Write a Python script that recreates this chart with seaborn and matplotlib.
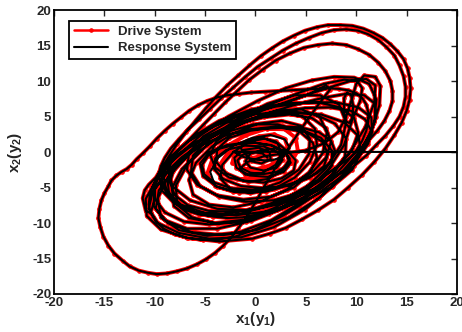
import numpy as np
import pandas as pd
import matplotlib
matplotlib.use("Agg")
import matplotlib.pyplot as plt
import seaborn as sns

# trajectory read off the phase portrait (x1, x2), in drawing order
# first small loops of the drive, before the response has caught up (red only)
unsynced_spiral = [(-0.6, 0.4), (-1.4, -0.6), (-0.2, -0.8), (1.0, -0.4), (1.9, 0.4), (2.0, 1.2), (1.2, 1.6),
                   (0.0, 1.3), (-1.2, 0.6), (-2.1, -0.4), (-2.3, -1.5), (-1.5, -2.3), (-0.1, -2.5),
                   (1.4, -1.9), (2.6, -0.8), (3.2, 0.6), (2.9, 1.9), (1.8, 2.5), (0.3, 2.2), (-1.3, 1.3),
                   (-2.7, 0.0), (-3.4, -1.5), (-3.1, -3.0), (-1.8, -3.8), (0.1, -3.8), (2.0, -3.0),
                   (3.5, -1.6), (4.2, 0.2), (4.0, 2.0), (2.9, 3.2), (1.1, 3.3), (-0.9, 2.4), (-2.9, 0.8),
                   (-4.3, -1.1), (-4.8, -3.1)]

inner_spiral = [(-4.0, -4.8), (-2.2, -5.6), (0.1, -5.4), (2.4, -4.3), (4.3, -2.5), (5.3, -0.3), (5.4, 1.9),
                (4.5, 3.7), (2.6, 4.4), (0.3, 4.0), (-2.1, 2.7), (-4.3, 0.8), (-5.9, -1.5), (-6.6, -3.9),
                (-6.2, -6.0), (-4.6, -7.4), (-2.2, -7.8), (0.5, -7.0), (3.1, -5.3), (5.3, -2.9), (6.7, -0.1),
                (7.1, 2.7), (6.4, 4.9), (4.6, 6.0), (2.2, 5.9), (-0.4, 4.7), (-3.0, 2.8), (-5.4, 0.3),
                (-7.3, -2.4), (-8.3, -5.1), (-8.1, -7.6), (-6.6, -9.3), (-4.0, -10.0), (-1.0, -9.5),
                (2.0, -7.8), (4.8, -5.3), (7.0, -2.3), (8.5, 1.0), (9.0, 4.2), (8.3, 6.7), (6.4, 8.0),
                (3.9, 8.0), (1.2, 6.8), (-1.6, 4.8), (-4.3, 2.3), (-6.8, -0.6), (-8.7, -3.6), (-9.7, -6.5)]

growth_loops = [(-9.4, -9.2), (-7.6, -11.0), (-4.8, -11.8), (-1.6, -11.3), (1.6, -9.6), (4.6, -7.0),
                (7.2, -3.8), (9.3, -0.2), (10.9, 3.5), (11.8, 7.0), (11.9, 9.4), (11.0, 10.3), (9.6, 10.1),
                (8.0, 9.4), (5.8, 8.4), (3.3, 7.2), (0.8, 5.9), (-1.8, 4.3), (-4.4, 2.2), (-6.8, -0.3),
                (-8.8, -3.0), (-10.2, -5.6), (-10.6, -8.0), (-9.7, -10.0), (-7.6, -11.4), (-4.6, -12.2),
                (-1.4, -12.0), (1.8, -10.6), (4.9, -8.1), (7.7, -4.8), (9.9, -1.0), (11.5, 2.9),
                (12.3, 6.6), (12.4, 9.3), (11.9, 10.6), (10.8, 10.8), (10.0, 9.6), (9.6, 7.6), (9.0, 5.0),
                (8.2, 2.8)]

reinjection = [(6.8, 1.2), (4.9, 0.2), (2.8, -0.2), (0.8, -0.6), (-0.8, -1.4), (-1.6, -2.4), (-1.0, -3.2),
               (0.6, -3.0), (2.0, -1.8), (2.6, -0.2), (2.2, 1.2), (0.9, 1.9), (-0.7, 1.4), (-2.2, 0.0),
               (-3.3, -1.8), (-3.5, -3.7), (-2.5, -5.2), (-0.5, -5.8), (1.8, -5.2), (3.9, -3.6), (5.4, -1.4),
               (6.1, 1.0), (5.9, 3.3), (4.7, 5.0), (2.7, 5.6), (0.3, 5.0), (-2.3, 3.4), (-4.8, 1.0),
               (-6.8, -1.8), (-7.9, -4.7), (-7.8, -7.4), (-6.3, -9.2), (-3.8, -10.1), (-0.9, -9.8),
               (2.1, -8.2), (4.9, -5.7), (7.2, -2.5), (8.8, 1.0), (9.6, 4.5), (9.7, 6.5), (9.5, 8.0),
               (9.1, 8.4), (8.8, 7.6), (8.8, 5.6), (9.0, 4.3), (9.3, 4.1), (9.8, 5.2), (10.4, 7.2),
               (10.6, 9.0), (10.1, 10.0), (8.8, 10.2), (6.8, 9.6), (4.4, 8.4), (1.8, 6.9), (-0.9, 5.1),
               (-3.6, 2.9), (-6.1, 0.3), (-8.2, -2.6), (-9.6, -5.4), (-9.9, -8.0), (-8.7, -10.0),
               (-6.3, -11.3), (-3.2, -11.7), (0.1, -11.0), (3.3, -9.2), (6.3, -6.5), (8.8, -3.2),
               (10.7, 0.5), (11.8, 4.2), (12.0, 7.4), (11.3, 9.6), (9.8, 10.5), (7.8, 10.6), (5.6, 10.1),
               (3.0, 9.0), (0.2, 7.2), (-2.7, 5.0), (-5.4, 2.4), (-7.8, -0.6), (-9.8, -3.8), (-10.9, -6.6),
               (-10.8, -9.0), (-9.4, -10.9), (-6.8, -12.1), (-3.6, -12.6), (-0.3, -12.2), (1.4, -11.5)]

outer_loop_top = [(3.0, -10.7), (4.6, -9.5), (6.2, -8.2), (7.8, -6.7), (9.2, -5.0), (10.6, -3.2),
                  (11.8, -1.4), (12.9, 0.5), (13.8, 2.4), (14.5, 4.1), (15.0, 5.8), (15.3, 7.4), (15.4, 9.0),
                  (15.3, 10.5), (15.1, 11.8), (14.7, 13.1), (14.1, 14.2), (13.4, 15.2), (12.6, 16.1),
                  (11.7, 16.8), (10.7, 17.4), (9.6, 17.8), (8.4, 17.9), (7.2, 17.9), (6.1, 17.6), (4.9, 17.1),
                  (3.8, 16.4), (2.7, 15.6), (1.6, 14.6), (0.5, 13.5), (-0.6, 12.2), (-1.7, 10.8), (-2.8, 9.4),
                  (-3.9, 7.8), (-4.9, 6.2), (-5.9, 4.5), (-6.9, 2.8), (-7.8, 1.1), (-8.6, -0.6), (-9.3, -2.2),
                  (-9.9, -3.6), (-10.6, -4.6), (-11.0, -5.4)]

left_hook = [(-11.2, -6.5), (-10.9, -8.3), (-10.4, -8.6), (-10.1, -7.0), (-10.0, -5.0), (-9.6, -3.4),
             (-8.4, -1.4), (-6.6, 0.6), (-4.4, 2.4), (-1.9, 3.9), (0.8, 4.9), (3.4, 5.3), (5.6, 4.8),
             (7.0, 3.4), (7.5, 1.4), (7.0, -0.8), (5.6, -2.9), (3.5, -4.6), (1.0, -5.6), (-1.6, -5.7),
             (-3.8, -4.9), (-5.2, -3.4), (-5.5, -1.6), (-4.6, 0.0), (-2.8, 1.0), (-0.6, 1.4), (1.5, 1.0),
             (3.0, -0.1), (3.5, -1.5), (2.8, -2.8), (1.2, -3.5), (-0.6, -3.3), (-1.9, -2.2), (-2.1, -0.8),
             (-1.2, 0.3), (0.3, 0.6), (1.4, 0.0), (1.5, -1.0), (0.6, -1.6), (-0.4, -1.3)]

mid_spiral = [(-1.5, 0.6), (-0.8, 1.6), (0.6, 2.0), (2.0, 1.5), (3.0, 0.3), (3.3, -1.2), (2.6, -2.7),
              (1.2, -3.8), (-0.7, -4.2), (-2.6, -3.6), (-4.0, -2.2), (-4.5, -0.4), (-3.9, 1.5),
              (-2.4, 3.0), (-0.2, 3.9), (2.2, 3.9), (4.3, 3.0), (5.7, 1.3), (6.1, -0.8), (5.4, -3.0),
              (3.8, -5.0), (1.5, -6.3), (-1.2, -6.7), (-3.8, -6.1), (-5.8, -4.6), (-6.8, -2.5),
              (-6.6, -0.1), (-5.2, 2.2), (-2.9, 4.1), (-0.1, 5.3), (3.0, 5.8), (5.8, 5.4), (7.9, 4.0),
              (9.0, 1.9), (8.9, -0.6), (7.7, -3.1), (5.5, -5.5), (2.6, -7.3), (-0.6, -8.2), (-3.8, -8.0),
              (-6.5, -6.8), (-8.2, -4.9), (-8.7, -2.6), (-8.0, -0.2), (-6.2, 2.2), (-3.6, 4.4),
              (-0.4, 6.0), (3.0, 6.9), (5.5, 8.3), (7.0, 9.4), (7.4, 8.8)]

big_left_loop = [(6.2, 6.6), (5.4, 5.0), (4.6, 3.4), (3.8, 1.7), (3.0, 0.0), (2.2, -1.7), (1.5, -3.4),
                 (0.8, -5.0), (0.2, -6.6), (-0.4, -8.0), (-1.0, -9.4), (-1.7, -10.7), (-2.4, -12.0),
                 (-3.2, -13.2), (-4.0, -14.2), (-4.9, -15.1), (-5.8, -15.8), (-6.8, -16.4), (-7.8, -16.8),
                 (-8.8, -17.1), (-9.8, -17.2), (-10.7, -17.0), (-11.6, -16.7), (-12.5, -16.1), (-13.2, -15.3),
                 (-14.0, -14.3), (-14.6, -13.2), (-15.1, -11.9), (-15.4, -10.6), (-15.6, -9.3), (-15.5, -8.0),
                 (-15.3, -6.8), (-15.0, -5.8), (-14.6, -4.8), (-14.3, -4.0), (-13.8, -3.3), (-13.3, -2.8),
                 (-12.8, -2.4), (-12.3, -1.8), (-11.8, -1.0), (-11.2, -0.2), (-10.5, 0.8), (-9.8, 1.9),
                 (-9.0, 3.0), (-8.2, 4.0), (-7.4, 4.9), (-6.6, 5.8), (-5.7, 6.6), (-4.8, 7.2), (-3.8, 7.7),
                 (-2.8, 8.0), (-1.6, 8.2), (-0.4, 8.4), (0.9, 8.5), (2.2, 8.6), (3.5, 8.7), (4.8, 8.8),
                 (6.0, 8.9), (7.2, 9.0), (8.3, 8.9), (9.2, 8.7), (10.0, 8.3), (10.6, 7.6), (11.0, 6.7),
                 (11.2, 5.6), (11.2, 4.3), (11.0, 3.0), (10.6, 1.6), (10.0, 0.2), (9.2, -1.2), (8.3, -2.6),
                 (7.2, -3.9), (6.0, -5.2), (4.7, -6.4), (3.2, -7.4), (1.7, -8.2), (0.2, -8.8), (-1.3, -9.2),
                 (-2.8, -9.3), (-4.2, -9.1), (-5.6, -8.7), (-6.8, -8.0), (-7.8, -7.2), (-8.6, -6.2),
                 (-9.1, -5.1), (-9.3, -4.0), (-9.3, -2.8), (-9.0, -1.7), (-8.4, -0.6)]

upper_loops = [(-6.8, 1.4), (-4.6, 3.3), (-2.0, 5.0), (0.8, 6.2), (3.6, 6.9), (6.2, 7.0), (8.4, 6.3),
               (9.8, 4.8), (10.2, 2.7), (9.6, 0.3), (8.0, -2.2), (5.7, -4.6), (2.9, -6.6), (-0.2, -8.0),
               (-3.2, -8.7), (-5.9, -8.5), (-8.0, -7.3), (-9.3, -5.4), (-9.6, -3.1), (-9.4, -2.0),
               (-9.0, -0.8), (-8.4, 0.5), (-7.6, 1.8), (-6.7, 3.2), (-5.6, 4.6), (-4.5, 6.1), (-3.4, 7.6),
               (-2.2, 9.1), (-1.0, 10.6), (0.2, 12.0), (1.5, 13.2), (2.7, 14.3), (4.0, 15.3), (5.3, 16.1),
               (6.6, 16.8), (7.8, 17.2), (9.0, 17.3), (10.2, 17.1), (11.2, 16.6), (12.2, 15.8), (13.0, 14.8),
               (13.8, 13.6), (14.3, 12.2), (14.7, 10.7), (14.9, 9.2), (14.9, 7.8), (14.7, 6.4), (14.3, 5.0),
               (13.7, 3.7), (12.9, 2.3), (12.0, 1.0), (11.0, -0.5), (9.8, -1.9), (8.6, -3.4), (7.2, -4.8),
               (5.8, -6.2), (4.3, -7.6), (2.8, -8.9), (1.2, -10.1), (-0.4, -11.1), (-2.0, -11.9),
               (-3.6, -12.3), (-5.2, -12.4), (-6.7, -12.1), (-8.0, -11.6), (-9.1, -10.8), (-9.9, -9.8),
               (-10.4, -8.6), (-10.6, -7.4), (-10.5, -6.1), (-10.2, -4.8), (-9.7, -3.4), (-9.0, -2.0),
               (-8.2, -0.6), (-7.2, 0.8), (-6.2, 2.3), (-5.2, 3.8), (-4.1, 5.4), (-3.0, 7.0), (-1.8, 8.6),
               (-0.6, 10.2), (0.7, 11.6), (2.0, 12.9), (3.4, 13.9), (4.8, 14.7), (6.2, 15.1), (7.6, 15.3),
               (9.0, 15.1), (10.2, 14.5), (11.3, 13.7), (12.2, 12.6), (12.9, 11.4), (13.4, 10.0),
               (13.6, 8.6), (13.6, 7.2), (13.3, 5.8), (12.8, 4.4), (12.1, 3.0), (11.2, 1.6), (10.2, 0.2),
               (9.0, -1.2), (7.7, -2.5), (6.4, -3.8), (4.9, -5.0), (3.4, -6.2), (1.9, -7.2), (0.3, -8.0),
               (-1.3, -8.6), (-2.8, -8.9), (-4.3, -9.0), (-5.6, -8.8), (-6.7, -8.3), (-7.6, -7.6),
               (-8.2, -6.7), (-8.6, -5.6), (-8.7, -4.4), (-8.6, -3.3), (-7.5, -1.1), (-5.6, 0.9),
               (-3.0, 2.4), (-0.2, 3.2), (2.6, 3.4), (5.0, 2.8), (6.6, 1.5), (7.2, -0.2), (6.8, -2.0),
               (5.4, -3.6), (3.3, -4.7), (0.9, -5.1), (-1.4, -4.8), (-3.2, -3.8), (-4.1, -2.4), (-4.0, -0.9),
               (-2.9, 0.3), (-1.1, 0.9), (0.8, 0.8), (2.2, 0.0), (2.7, -1.1), (2.1, -2.2), (0.8, -2.6),
               (-0.5, -2.2), (-1.0, -1.3)]

late_spiral = [(-0.5, -0.2), (0.7, 0.3), (2.0, 0.5), (3.3, 0.0), (4.0, -1.2), (3.8, -2.6), (2.6, -3.7),
               (0.8, -4.3), (-1.2, -4.0), (-2.9, -3.0), (-3.9, -1.4), (-3.8, 0.4), (-2.6, 2.0), (-0.5, 3.0),
               (2.0, 3.5), (4.5, 3.2), (6.5, 2.0), (7.6, 0.2), (7.6, -1.9), (6.5, -4.0), (4.5, -5.7),
               (1.8, -6.8), (-1.0, -7.0), (-3.6, -6.3), (-5.5, -4.8), (-6.4, -2.8), (-6.2, -0.5),
               (-4.8, 1.7), (-2.5, 3.6), (0.4, 4.9), (3.5, 5.5), (6.5, 5.3), (8.8, 4.2), (10.2, 2.3),
               (10.5, 0.0), (9.6, -2.5), (7.6, -4.9), (4.8, -6.9), (1.5, -8.3), (-1.9, -8.9), (-5.0, -8.6),
               (-7.4, -7.4), (-8.8, -5.5), (-9.2, -3.2), (-8.4, -0.8), (-6.7, 1.5), (-4.2, 3.6),
               (-1.2, 5.3), (2.0, 6.4), (5.2, 7.0), (8.0, 7.0), (10.2, 6.3), (11.5, 4.9), (11.6, 2.8),
               (10.7, 0.2), (8.8, -2.6), (6.2, -5.4), (3.0, -7.8), (-0.4, -9.7), (-3.8, -10.8),
               (-6.8, -10.8), (-9.0, -9.6), (-10.1, -7.6), (-10.0, -5.3), (-9.0, -3.0), (-7.3, -0.7),
               (-5.0, 1.6), (-2.2, 3.6), (0.8, 5.3), (3.8, 6.6), (6.6, 7.6), (9.0, 8.2), (10.8, 8.0),
               (11.8, 6.9), (12.0, 5.0), (11.4, 2.6)]

extra_loops = [(10.3, 0.0), (8.7, -2.6), (6.6, -5.0), (4.1, -7.1), (1.3, -8.7), (-1.7, -9.8), (-4.6, -10.2),
               (-7.1, -9.8), (-9.0, -8.5), (-10.0, -6.6), (-10.1, -4.5), (-9.3, -2.4), (-7.8, -0.4),
               (-5.8, 1.5), (-3.4, 3.2), (-0.7, 4.6), (2.1, 5.6), (4.9, 6.2), (7.4, 6.3), (9.5, 5.8),
               (10.9, 4.6), (11.5, 3.0), (11.2, 1.2), (10.2, -0.8), (8.5, -2.9), (6.2, -4.9), (3.6, -6.6),
               (0.8, -7.8), (-2.0, -8.4), (-4.6, -8.3), (-6.7, -7.5), (-8.0, -6.1), (-8.5, -4.3),
               (-8.1, -2.4), (-7.0, -0.6), (-5.3, 1.0), (-3.1, 2.3), (-0.6, 3.2), (2.0, 3.6), (4.4, 3.5),
               (6.3, 2.8), (7.5, 1.6), (7.9, 0.1), (7.4, -1.5), (6.1, -3.0), (4.2, -4.2), (2.0, -5.0),
               (-0.3, -5.3), (-2.4, -5.1), (-4.1, -4.3), (-5.1, -3.1), (-5.3, -1.8), (-4.7, -0.5),
               (-3.5, 0.5), (-1.8, 1.1), (0.0, 1.3), (1.7, 0.9), (2.9, 0.1), (3.4, -0.9), (3.1, -2.0),
               (2.1, -2.8), (0.8, -3.1), (-0.5, -2.9), (-1.5, -2.2), (-1.8, -1.2), (-1.3, -0.4),
               (-0.3, 0.0), (0.7, -0.2), (1.2, -0.8)]

# response system starts far away, then closes in on the drive trajectory
response_transient = [(20.0, 0.0), (-2.2, 0.05), (-1.2, -0.7), (0.2, -1.1), (1.6, -1.2), (2.8, -0.6),
                      (3.4, 0.6), (2.9, 1.8), (1.5, 2.4), (-0.3, 2.0), (-2.2, 0.9), (-3.7, -0.8),
                      (-4.5, -2.8)]

tick_values = [-20, -15, -10, -5, 0, 5, 10, 15, 20]


def build_frames():
    synced = (inner_spiral + growth_loops + reinjection + outer_loop_top + left_hook
              + mid_spiral + big_left_loop + upper_loops + late_spiral + extra_loops)
    drive_df = pd.DataFrame(unsynced_spiral + synced, columns=["x1", "x2"])
    response_df = pd.DataFrame(response_transient + synced, columns=["x1", "x2"])
    return drive_df, response_df


def plot_sync(drive_df, response_df):
    sns.set_style("white")
    plt.rcParams["font.family"] = ["Liberation Sans", "DejaVu Sans"]
    plt.rcParams["font.weight"] = "bold"
    plt.rcParams["axes.unicode_minus"] = False
    plt.rcParams["mathtext.fontset"] = "custom"
    plt.rcParams["mathtext.rm"] = "Liberation Sans:bold"
    plt.rcParams["mathtext.bf"] = "Liberation Sans:bold"
    plt.rcParams["mathtext.it"] = "Liberation Sans:bold"

    fig = plt.figure(figsize=(4.62, 3.32), dpi=100)
    ax = fig.add_axes([0.117, 0.1145, 0.872, 0.855])

    sns.lineplot(data=drive_df, x="x1", y="x2", sort=False, estimator=None, color="red",
                 linewidth=2.8, marker=".", markersize=5, markeredgecolor="red",
                 label="Drive System", ax=ax)
    sns.lineplot(data=response_df, x="x1", y="x2", sort=False, estimator=None, color="black",
                 linewidth=1.5, label="Response System", ax=ax)

    ax.set_xlim(-20, 20)
    ax.set_ylim(-20, 20)
    ax.set_xticks(tick_values)
    ax.set_yticks(tick_values)
    ax.tick_params(direction="in", top=True, right=True, length=4, width=1,
                   labelsize=9.5, pad=2)
    for lab in ax.get_xticklabels() + ax.get_yticklabels():
        lab.set_fontweight("bold")
    for sp in ax.spines.values():
        sp.set_linewidth(1.3)
        sp.set_color("black")

    ax.set_xlabel(r"$\mathbf{x_1(y_1)}$", fontsize=11, labelpad=1)
    ax.set_ylabel(r"$\mathbf{x_2(y_2)}$", fontsize=11, labelpad=6)

    leg = ax.legend(loc="upper left", bbox_to_anchor=(0.037, 0.961), borderaxespad=0,
                    fancybox=False, framealpha=1, edgecolor="black", handlelength=2.6,
                    prop={"weight": "bold", "size": 9.5}, borderpad=0.35, labelspacing=0.3)
    leg.get_frame().set_linewidth(1.3)
    leg.get_lines()[0].set_linewidth(1.8)

    fig.savefig("out.png", dpi=100)
    plt.close(fig)


if __name__ == "__main__":
    d_df, r_df = build_frames()
    print("Drive points:", len(d_df))
    plot_sync(d_df, r_df)
